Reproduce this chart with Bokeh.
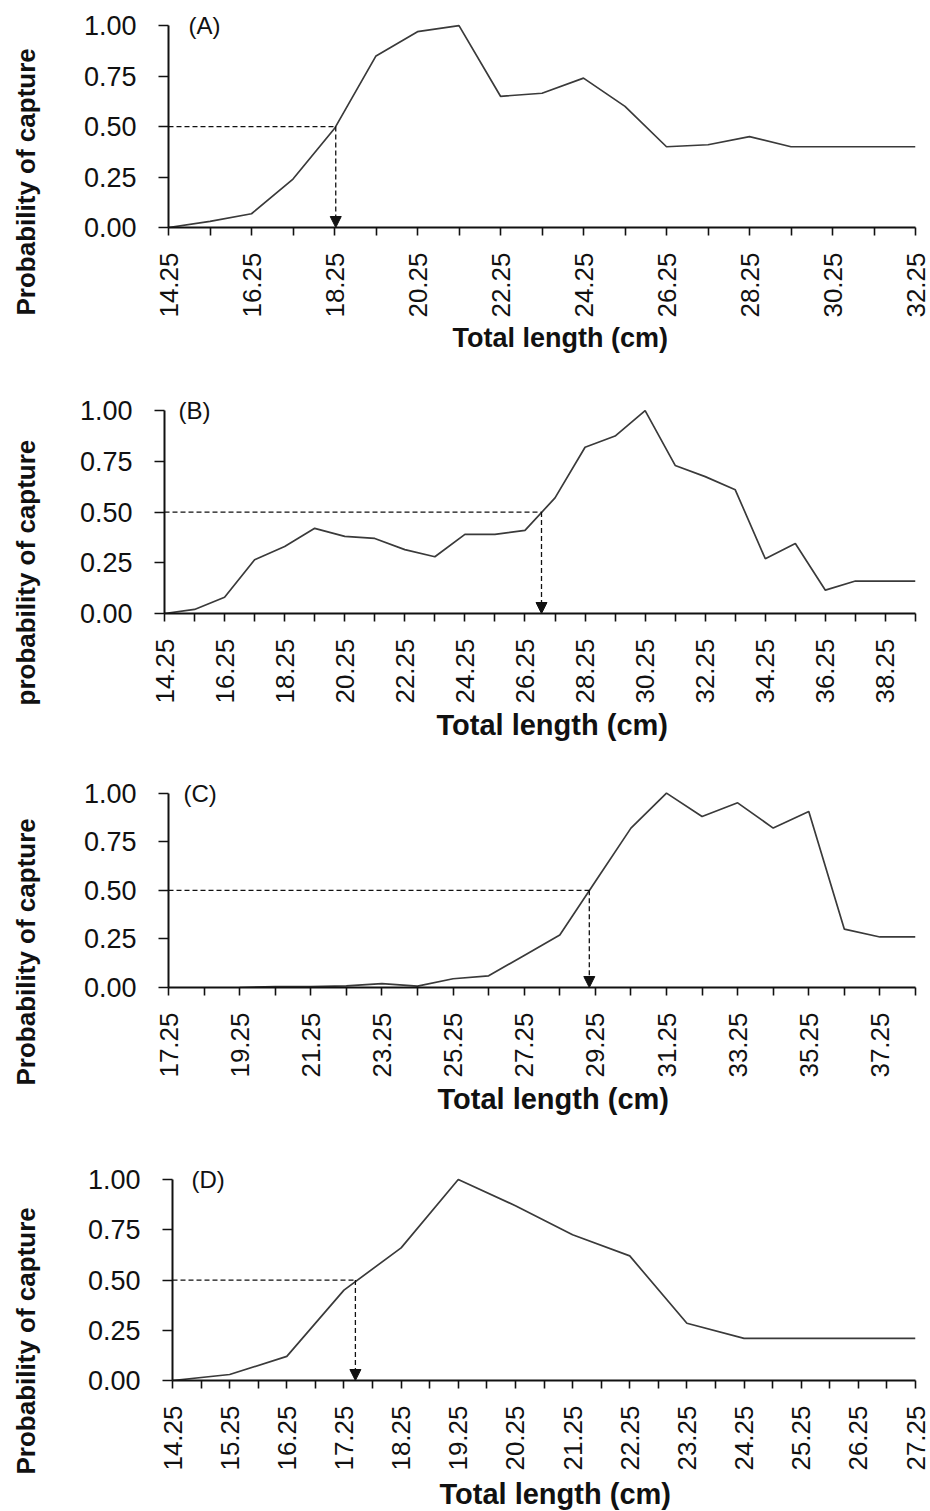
import math
from bokeh.plotting import figure
from bokeh.models import Range1d, FixedTicker, PrintfTickFormatter, Label, Arrow, NormalHead, Title
from bokeh.layouts import column, row
from bokeh.embed import file_html
from bokeh.resources import INLINE

# ---------------- data ----------------
# Panel A
a_length = [14.25, 15.25, 16.25, 17.25, 18.25, 19.25, 20.25, 21.25, 22.25, 23.25,
            24.25, 25.25, 26.25, 27.25, 28.25, 29.25, 30.25, 31.25, 32.25]
a_prob = [0.00, 0.03, 0.068, 0.24, 0.49, 0.85, 0.97, 1.00, 0.65, 0.665,
          0.74, 0.60, 0.40, 0.41, 0.45, 0.40, 0.40, 0.40, 0.40]
a_l50 = 18.28
a_major = [14.25, 16.25, 18.25, 20.25, 22.25, 24.25, 26.25, 28.25, 30.25, 32.25]
a_minor = [15.25, 17.25, 19.25, 21.25, 23.25, 25.25, 27.25, 29.25, 31.25]

# Panel B
b_length = [14.25, 15.25, 16.25, 17.25, 18.25, 19.25, 20.25, 21.25, 22.25, 23.25,
            24.25, 25.25, 26.25, 27.25, 28.25, 29.25, 30.25, 31.25, 32.25, 33.25,
            34.25, 35.25, 36.25, 37.25, 38.25, 39.25]
b_prob = [0.00, 0.02, 0.08, 0.265, 0.33, 0.42, 0.38, 0.37, 0.315, 0.28,
          0.39, 0.39, 0.41, 0.57, 0.82, 0.875, 1.00, 0.73, 0.675, 0.61,
          0.27, 0.345, 0.115, 0.16, 0.16, 0.16]
b_l50 = 26.8
b_major = [14.25, 16.25, 18.25, 20.25, 22.25, 24.25, 26.25, 28.25, 30.25, 32.25,
           34.25, 36.25, 38.25]
b_minor = [15.25, 17.25, 19.25, 21.25, 23.25, 25.25, 27.25, 29.25, 31.25, 33.25,
           35.25, 37.25, 39.25]

# Panel C
c_length = [19.25, 20.25, 21.25, 22.25, 23.25, 24.25, 25.25, 26.25, 27.25, 28.25,
            29.25, 30.25, 31.25, 32.25, 33.25, 34.25, 35.25, 36.25, 37.25, 38.25]
c_prob = [0.00, 0.005, 0.005, 0.008, 0.02, 0.007, 0.045, 0.06, 0.165, 0.27,
          0.545, 0.82, 1.00, 0.88, 0.95, 0.82, 0.905, 0.30, 0.26, 0.26]
c_l50 = 29.08
c_major = [17.25, 19.25, 21.25, 23.25, 25.25, 27.25, 29.25, 31.25, 33.25, 35.25, 37.25]
c_minor = [18.25, 20.25, 22.25, 24.25, 26.25, 28.25, 30.25, 32.25, 34.25, 36.25, 38.25]

# Panel D
d_length = [14.25, 15.25, 16.25, 17.25, 18.25, 19.25, 20.25, 21.25, 22.25, 23.25,
            24.25, 25.25, 26.25, 27.25]
d_prob = [0.00, 0.03, 0.12, 0.45, 0.66, 1.00, 0.87, 0.725, 0.62, 0.285,
          0.21, 0.21, 0.21, 0.21]
d_l50 = 17.45
d_major = [14.25, 15.25, 16.25, 17.25, 18.25, 19.25, 20.25, 21.25, 22.25, 23.25,
           24.25, 25.25, 26.25, 27.25]
d_minor = [14.75, 15.75, 16.75, 17.75, 18.75, 19.75, 20.75, 21.75, 22.75, 23.75,
           24.75, 25.75, 26.75]

y_ticks = [0.0, 0.25, 0.5, 0.75, 1.0]
y_tick_labels = ["0.00", "0.25", "0.50", "0.75", "1.00"]
half_level = 0.5

FONT = "Liberation Sans"
INK = "#111111"
SIDE_W = 50


def make_side(text, h, offset):
    """Narrow strip whose left title carries the rotated y-axis title."""
    s = figure(width=SIDE_W, height=h, x_range=Range1d(0, 1), y_range=Range1d(0, 1),
               output_backend="svg", toolbar_location=None,
               x_axis_location=None, y_axis_location=None,
               min_border_left=0, min_border_right=0, min_border_top=0, min_border_bottom=0)
    s.outline_line_color = None
    s.xgrid.visible = False
    s.ygrid.visible = False
    s.add_layout(Title(text=text, align="left", offset=offset, standoff=16,
                       text_font=FONT, text_font_style="bold", text_font_size="26px",
                       text_color=INK), "left")
    return s


def make_panel(length, prob, l50, major, minor, letter, xtitle, lay):
    x0 = lay["x0"]
    x1 = lay["x1"]
    p = figure(width=930 - SIDE_W, height=lay["h"], x_range=Range1d(x0, x1),
               y_range=Range1d(0, 1.07),
               output_backend="svg", toolbar_location=None,
               min_border_top=lay["bt"], min_border_bottom=lay["bb"],
               min_border_left=lay["bl"] - SIDE_W, min_border_right=15)
    p.outline_line_color = None
    p.xgrid.visible = False
    p.ygrid.visible = False

    xa = p.xaxis[0]
    xa.ticker = FixedTicker(ticks=major, minor_ticks=minor)
    xa.formatter = PrintfTickFormatter(format="%.2f")
    xa.major_label_orientation = math.pi / 2
    xa.major_tick_in = 0
    xa.major_tick_out = 8
    xa.minor_tick_in = 0
    xa.minor_tick_out = 8
    xa.major_label_standoff = 17
    xa.major_label_text_font = FONT
    xa.major_label_text_font_size = "26px"
    xa.major_label_text_color = INK

    ya = p.yaxis[0]
    ya.ticker = FixedTicker(ticks=y_ticks, minor_ticks=[])
    ya.major_label_overrides = {t: s for t, s in zip(y_ticks, y_tick_labels)}
    ya.bounds = (0, 1)
    ya.major_tick_in = 0
    ya.major_tick_out = 10
    ya.major_label_standoff = 22
    ya.major_label_text_font = FONT
    ya.major_label_text_font_size = "27px"
    ya.major_label_text_color = INK

    for ax in (xa, ya):
        ax.axis_line_color = INK
        ax.axis_line_width = 2
        ax.major_tick_line_color = INK
        ax.major_tick_line_width = 1.6
        ax.minor_tick_line_color = INK
        ax.minor_tick_line_width = 1.6

    # selection curve
    p.line(length, prob, line_color="#3a3a3a", line_width=1.7)
    # 50% retention guide and L50 arrow
    p.segment(x0=[x0], y0=[half_level], x1=[l50], y1=[half_level],
              line_color=INK, line_width=1.3, line_dash="5 3")
    p.add_layout(Arrow(end=NormalHead(size=11, fill_color=INK, line_color=INK, line_width=1),
                       x_start=l50, y_start=half_level, x_end=l50, y_end=0,
                       line_color=INK, line_width=1.3, line_dash="5 3"))

    p.add_layout(Label(x=lay["lx"], y=1.0, x_units="screen", y_units="data", text=letter,
                       text_font=FONT, text_font_size="24px", text_baseline="middle",
                       text_color=INK))

    p.add_layout(Title(text=xtitle, align="left", offset=lay["xoff"], standoff=lay["xstand"],
                       text_font=FONT, text_font_style="bold", text_font_size=lay["xts"],
                       text_color=INK), "below")
    return p


pA = make_panel(a_length, a_prob, a_l50, a_major, a_minor, "(A)", "Total length (cm)",
                dict(x0=14.25, x1=32.25, h=365, bt=11, bb=138, bl=168, lx=20,
                     xoff=284, xstand=0, xts="27px"))
pB = make_panel(b_length, b_prob, b_l50, b_major, b_minor, "(B)", "Total length (cm)",
                dict(x0=14.25, x1=39.25, h=385, bt=31, bb=137, bl=164, lx=14,
                     xoff=272, xstand=0, xts="29px"))
pC = make_panel(c_length, c_prob, c_l50, c_major, c_minor, "(C)", "Total length (cm)",
                dict(x0=17.25, x1=38.25, h=381, bt=29, bb=144, bl=168, lx=15,
                     xoff=269, xstand=0, xts="29px"))
pD = make_panel(d_length, d_prob, d_l50, d_major, d_minor, "(D)", "Total length (cm)",
                dict(x0=14.25, x1=27.25, h=380, bt=34, bb=127, bl=172, lx=19,
                     xoff=267, xstand=4, xts="29px"))

sA = make_side("Probability of capture", 365, -88)
sB = make_side("probability of capture", 385, -92)
sC = make_side("Probability of capture", 381, -98)
sD = make_side("Probability of capture", 380, -94)

layout = column(row(sA, pA), row(sB, pB), row(sC, pC), row(sD, pD))
open("out.html", "w").write(file_html(layout, INLINE))
